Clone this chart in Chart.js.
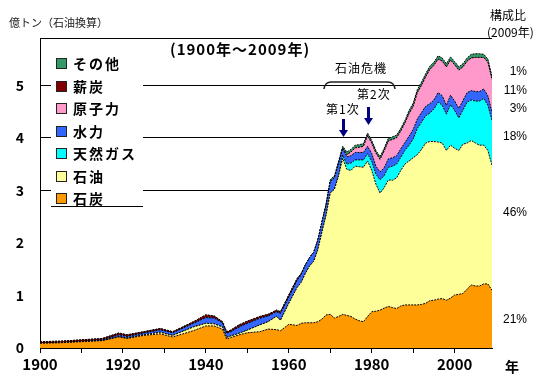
<!DOCTYPE html>
<html><head><meta charset="utf-8">
<script src="https://cdn.jsdelivr.net/npm/chart.js"></script>
<style>html,body{margin:0;padding:0;background:#fff;}canvas{display:block;}</style>
</head><body>
<canvas id="c" width="550" height="381"></canvas>
<script>
const years = [1900,1905,1910,1915,1919,1921,1925,1929,1932,1937,1940,1942,1944,1945,1946,1948,1950,1953,1955,1957,1958,1960,1962,
1963,1964,1965,1966,1967,1968,1969,1970,1971,1972,1973,1974,1975,1976,1977,1978,1979,1980,1981,1982,1983,1984,1985,1986,1987,1988,1989,
1990,1991,1992,1993,1994,1995,1996,1997,1998,1999,2000,2001,2002,2003,2004,2005,2006,2007,2008,2009];
const coal = [.09,.10,.12,.14,.21,.18,.24,.27,.21,.33,.42,.42,.36,.17,.20,.25,.29,.31,.36,.35,.33,.45,.43,
.47,.48,.48,.48,.50,.55,.63,.64,.57,.60,.64,.62,.60,.55,.52,.50,.60,.69,.70,.72,.76,.79,.77,.75,.80,.82,.82,
.82,.82,.83,.85,.90,.91,.93,.94,.91,.95,1.01,1.02,1.04,1.12,1.20,1.18,1.18,1.22,1.22,1.10];
const oil = [0,0,0,0,.005,.01,.01,.03,.03,.07,.05,.04,.04,.03,.03,.03,.05,.13,.14,.25,.20,.40,.72,
.78,.94,1.08,1.17,1.37,1.66,1.90,2.31,2.45,2.68,2.97,2.78,2.78,2.91,2.93,2.94,2.96,2.69,2.42,2.23,2.29,2.41,2.42,2.49,2.58,2.68,2.74,
2.80,2.86,2.95,3.05,3.03,3.02,2.99,2.96,2.85,2.91,2.79,2.74,2.84,2.78,2.75,2.72,2.68,2.64,2.54,2.38];
const gas = [0,0,0,0,0,0,0,0,0,0,0,0,0,0,0,0,0,0,0,0,0,0,0,
0,0,0,0,0,0,0,0,0,0,.06,.10,.14,.12,.13,.14,.14,.17,.19,.25,.23,.24,.27,.26,.25,.26,.30,
.36,.50,.52,.52,.54,.62,.76,.72,.69,.77,.72,.62,.65,.78,.77,.80,.84,.89,.86,.85];
const hydro = [0,0,.005,.015,.035,.03,.035,.045,.05,.07,.11,.11,.08,.08,.08,.12,.13,.125,.11,.09,.13,.12,.14,
.15,.16,.16,.17,.18,.19,.19,.22,.22,.23,.13,.14,.14,.14,.14,.14,.14,.15,.15,.15,.15,.16,.16,.16,.16,.15,.17,
.18,.18,.18,.18,.18,.17,.18,.18,.17,.18,.18,.18,.18,.18,.18,.18,.18,.18,.18,.16];
const nuclear = [0,0,0,0,0,0,0,0,0,0,0,0,0,0,0,0,0,0,0,0,0,0,0,
0,0,0,0,0,0,0,0,0,0,0,.04,.07,.09,.10,.12,.20,.20,.25,.24,.32,.34,.35,.34,.34,.37,.43,
.44,.50,.52,.56,.65,.66,.64,.66,.73,.67,.69,.73,.64,.60,.62,.65,.65,.60,.64,.62];
const firewood = [.03,.03,.03,.025,.035,.03,.025,.025,.02,.03,.05,.04,.02,.03,.03,.04,.04,.035,.03,.03,.03,.04,.03,
.02,0,0,0,0,0,0,0,0,0,0,0,0,0,0,0,0,0,0,0,0,0,0,0,0,0,0,
0,0,0,0,0,0,0,0,0,0,0,0,0,0,0,0,0,0,0,0];
const other = [0,0,0,0,0,0,0,0,0,0,0,0,0,0,0,0,0,0,0,0,0,0,0,
0,0,0,0,0,0,.03,.03,.04,.04,.04,.05,.05,.05,.05,.05,.05,.05,.05,.05,.05,.05,.05,.05,.05,.05,.06,
.06,.06,.06,.06,.06,.06,.06,.06,.06,.06,.06,.06,.06,.06,.07,.07,.07,.06,.06,.06];

const seriesNames = ['石炭','石油','天然ガス','水力','原子力','薪炭','その他'];
const seriesColors = ['#FF9900','#FFFF99','#00FFFF','#3366FF','#FF99CC','#800000','#339966'];
const legendOrder = ['その他','薪炭','原子力','水力','天然ガス','石油','石炭'];
const yTicksShown = [0,1,2,3,4,5];
const gridValues = [3,4,5];
const shares = [['1%',72],['11%',91],['3%',109],['18%',137],['46%',213],['21%',320]];

const JP = '"Noto Sans CJK JP", "Liberation Sans", sans-serif';
const allSeries = [coal, oil, gas, hydro, nuclear, firewood, other];

const datasets = allSeries.map((arr, i) => ({
  label: seriesNames[i],
  data: arr,
  backgroundColor: seriesColors[i],
  borderColor: '#000',
  borderWidth: 1,
  borderDash: [2,1],
  pointRadius: 0,
  tension: 0,
  fill: i === 0 ? 'origin' : '-1'
}));

const decor = {
  id: 'decor',
  afterDraw(chart) {
    const ctx = chart.ctx;
    const a = chart.chartArea;
    ctx.save();
    ctx.strokeStyle = '#000'; ctx.lineWidth = 1;
    ctx.beginPath(); ctx.moveTo(a.left, a.top + 0.5); ctx.lineTo(a.right, a.top + 0.5); ctx.stroke();
    // legend box
    ctx.fillStyle = '#fff';
    ctx.fillRect(51, 46, 92, 159);
    ctx.beginPath(); ctx.moveTo(51, 206.5); ctx.lineTo(143, 206.5); ctx.stroke();
    legendOrder.forEach((name, k) => {
      const i = seriesNames.indexOf(name);
      const cy = 63 + k * 22.5;
      ctx.fillStyle = seriesColors[i];
      ctx.fillRect(56, Math.round(cy - 5), 11, 11);
      ctx.strokeStyle = '#222';
      ctx.strokeRect(56.5, Math.round(cy - 5) + 0.5, 10, 10);
      ctx.fillStyle = '#000';
      ctx.font = 'bold 14px ' + JP;
      ctx.letterSpacing = '2px';
      ctx.textBaseline = 'middle'; ctx.textAlign = 'left';
      ctx.fillText(name, 73, cy + 1);
    });
    ctx.letterSpacing = '0px';
    ctx.fillStyle = '#222';
    ctx.font = '11px ' + JP;
    ctx.textAlign = 'left'; ctx.textBaseline = 'middle';
    ctx.fillText('億トン（石油換算）', 9, 23);
    ctx.fillStyle = '#000';
    ctx.font = 'bold 15px ' + JP;
    ctx.letterSpacing = '1px';
    ctx.fillText('(1900年～2009年)', 170, 49);
    ctx.letterSpacing = '0px';
    ctx.font = '12px ' + JP;
    ctx.letterSpacing = '1px';
    ctx.fillText('石油危機', 335, 68);
    ctx.fillText('第2次', 357, 94);
    ctx.fillText('第1次', 326, 109);
    ctx.letterSpacing = '0px';
    ctx.strokeStyle = '#222'; ctx.lineWidth = 1.5;
    ctx.beginPath();
    ctx.moveTo(324, 89);
    ctx.quadraticCurveTo(325, 82, 331, 82);
    ctx.lineTo(388, 82);
    ctx.quadraticCurveTo(394, 82, 395, 89);
    ctx.stroke();
    const arrow = (x, y0, y1) => {
      ctx.fillStyle = '#000080';
      ctx.fillRect(x - 1.5, y0, 3, y1 - y0 - 6);
      ctx.beginPath();
      ctx.moveTo(x - 4.5, y1 - 7); ctx.lineTo(x + 4.5, y1 - 7); ctx.lineTo(x, y1); ctx.closePath(); ctx.fill();
    };
    arrow(343.5, 119, 137);
    arrow(368.5, 107, 125);
    ctx.fillStyle = '#000';
    ctx.font = '12px ' + JP;
    ctx.textAlign = 'left';
    ctx.fillText('構成比', 490, 15);
    ctx.fillText('(2009年)', 487, 32);
    ctx.textAlign = 'right';
    ctx.font = '12px "Liberation Sans", sans-serif';
    shares.forEach(([t, y]) => { ctx.fillText(t, 527, y); });
    ctx.textAlign = 'left';
    ctx.font = 'bold 14px ' + JP;
    ctx.fillText('年', 505, 367);
    ctx.restore();
  }
};

new Chart(document.getElementById('c'), {
  type: 'line',
  data: { labels: years, datasets },
  options: {
    responsive: false,
    animation: false,
    devicePixelRatio: 1,
    layout: { padding: { left: 0, right: 58, top: 38, bottom: 0 } },
    plugins: { legend: { display: false }, tooltip: { enabled: false } },
    scales: {
      x: {
        type: 'linear', min: 1900, max: 2009,
        afterFit: s => { s.height = 33; },
        border: { display: true, color: '#000' },
        grid: { drawOnChartArea: false, drawTicks: true, tickLength: 5, color: '#000' },
        ticks: {
          stepSize: 10, includeBounds: false, autoSkip: false, maxRotation: 0,
          padding: 2, color: '#000',
          font: { family: JP, size: 15, weight: 'bold' },
          callback: v => (v % 20 === 0 ? String(v) : '')
        }
      },
      y: {
        stacked: true, min: 0, max: 5.9,
        afterFit: s => { s.width = 40; },
        afterBuildTicks: s => { s.ticks = yTicksShown.map(v => ({ value: v })); },
        border: { display: true, color: '#000' },
        grid: {
          drawTicks: false,
          color: c => (c.tick && gridValues.includes(c.tick.value) ? '#000' : 'rgba(0,0,0,0)')
        },
        ticks: { padding: 16, color: '#000', font: { family: JP, size: 14, weight: 'bold' } }
      }
    }
  },
  plugins: [decor]
});
</script>
</body></html>
